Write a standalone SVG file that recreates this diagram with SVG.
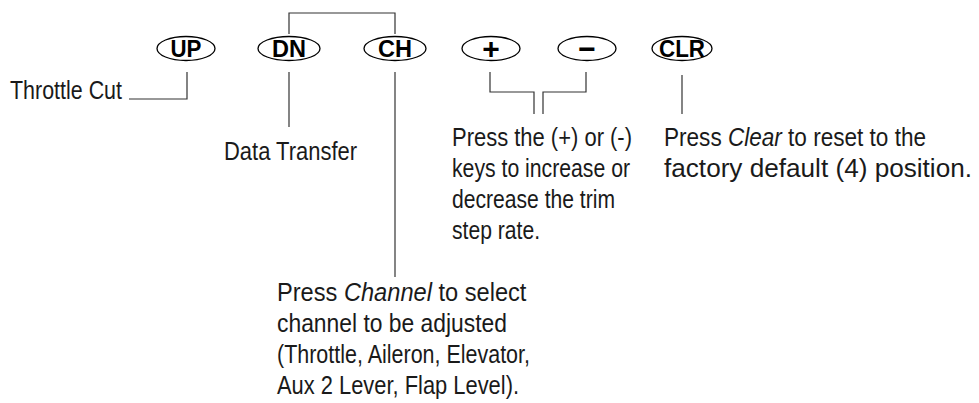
<svg xmlns="http://www.w3.org/2000/svg" width="979" height="403" viewBox="0 0 979 403">
<style>
  .key { fill: #fff; stroke: #000; stroke-width: 1.3; }
  .kt { font-family: "Liberation Sans", Arial, sans-serif; font-weight: bold; font-size: 23px; text-anchor: middle; fill: #000; }
  .sym { font-family: "Liberation Sans", Arial, sans-serif; font-weight: bold; font-size: 30px; text-anchor: middle; fill: #000; }
  .lbl { font-family: "Liberation Sans", Arial, sans-serif; font-size: 25px; fill: #1a1a1a; }
  .it { font-style: italic; }
  .conn { fill: none; stroke: #333; stroke-width: 1.2; }
</style>
<rect width="979" height="403" fill="#fff"/>
<g id="connectors">
  <path class="conn" d="M289,34 V13 H395 V34"/>
  <path class="conn" d="M187,72 V99 H129"/>
  <path class="conn" d="M289,72 V127"/>
  <path class="conn" d="M395,72 V277"/>
  <path class="conn" d="M490,72 V92 H534 V114"/>
  <path class="conn" d="M586,72 V92 H543 V114"/>
  <path class="conn" d="M682,75 V114"/>
</g>
<g id="key-up">
  <ellipse class="key" cx="186" cy="48.5" rx="29" ry="12"/>
  <text class="kt" x="186" y="57" textLength="31" lengthAdjust="spacingAndGlyphs">UP</text>
</g>
<g id="key-dn">
  <ellipse class="key" cx="289" cy="48.5" rx="31" ry="12"/>
  <text class="kt" x="289" y="57" textLength="34" lengthAdjust="spacingAndGlyphs">DN</text>
</g>
<g id="key-ch">
  <ellipse class="key" cx="395" cy="48.5" rx="31" ry="12"/>
  <text class="kt" x="395" y="57" textLength="34" lengthAdjust="spacingAndGlyphs">CH</text>
</g>
<g id="key-plus">
  <ellipse class="key" cx="491" cy="48.5" rx="29" ry="12"/>
  <text class="sym" x="491" y="59">+</text>
</g>
<g id="key-minus">
  <ellipse class="key" cx="587" cy="48.5" rx="29" ry="12"/>
  <text class="sym" x="587" y="59">−</text>
</g>
<g id="key-clr">
  <ellipse class="key" cx="682" cy="48.5" rx="30" ry="12"/>
  <text class="kt" x="682" y="57" textLength="46" lengthAdjust="spacingAndGlyphs">CLR</text>
</g>
<g id="label-throttle">
  <text class="lbl" x="10" y="99" textLength="112" lengthAdjust="spacingAndGlyphs">Throttle Cut</text>
</g>
<g id="label-data">
  <text class="lbl" x="224" y="160" textLength="133" lengthAdjust="spacingAndGlyphs">Data Transfer</text>
</g>
<g id="label-trim">
  <text class="lbl" x="452" y="146" textLength="180" lengthAdjust="spacingAndGlyphs">Press the (+) or (-)</text>
  <text class="lbl" x="452" y="177" textLength="178" lengthAdjust="spacingAndGlyphs">keys to increase or</text>
  <text class="lbl" x="452" y="208" textLength="163" lengthAdjust="spacingAndGlyphs">decrease the trim</text>
  <text class="lbl" x="452" y="239" textLength="88" lengthAdjust="spacingAndGlyphs">step rate.</text>
</g>
<g id="label-clear">
  <text class="lbl" transform="translate(664,146) scale(0.903,1)">Press <tspan class="it">Clear</tspan> to reset to the</text>
  <text class="lbl" x="664" y="177" textLength="308" lengthAdjust="spacingAndGlyphs">factory default (4) position.</text>
</g>
<g id="label-channel">
  <text class="lbl" transform="translate(277,301) scale(0.945,1)">Press <tspan class="it">Channel</tspan> to select</text>
  <text class="lbl" x="277" y="332" textLength="230" lengthAdjust="spacingAndGlyphs">channel to be adjusted</text>
  <text class="lbl" x="277" y="363" textLength="253" lengthAdjust="spacingAndGlyphs">(Throttle, Aileron, Elevator,</text>
  <text class="lbl" x="277" y="394" textLength="242" lengthAdjust="spacingAndGlyphs">Aux 2 Lever, Flap Level).</text>
</g>
</svg>
